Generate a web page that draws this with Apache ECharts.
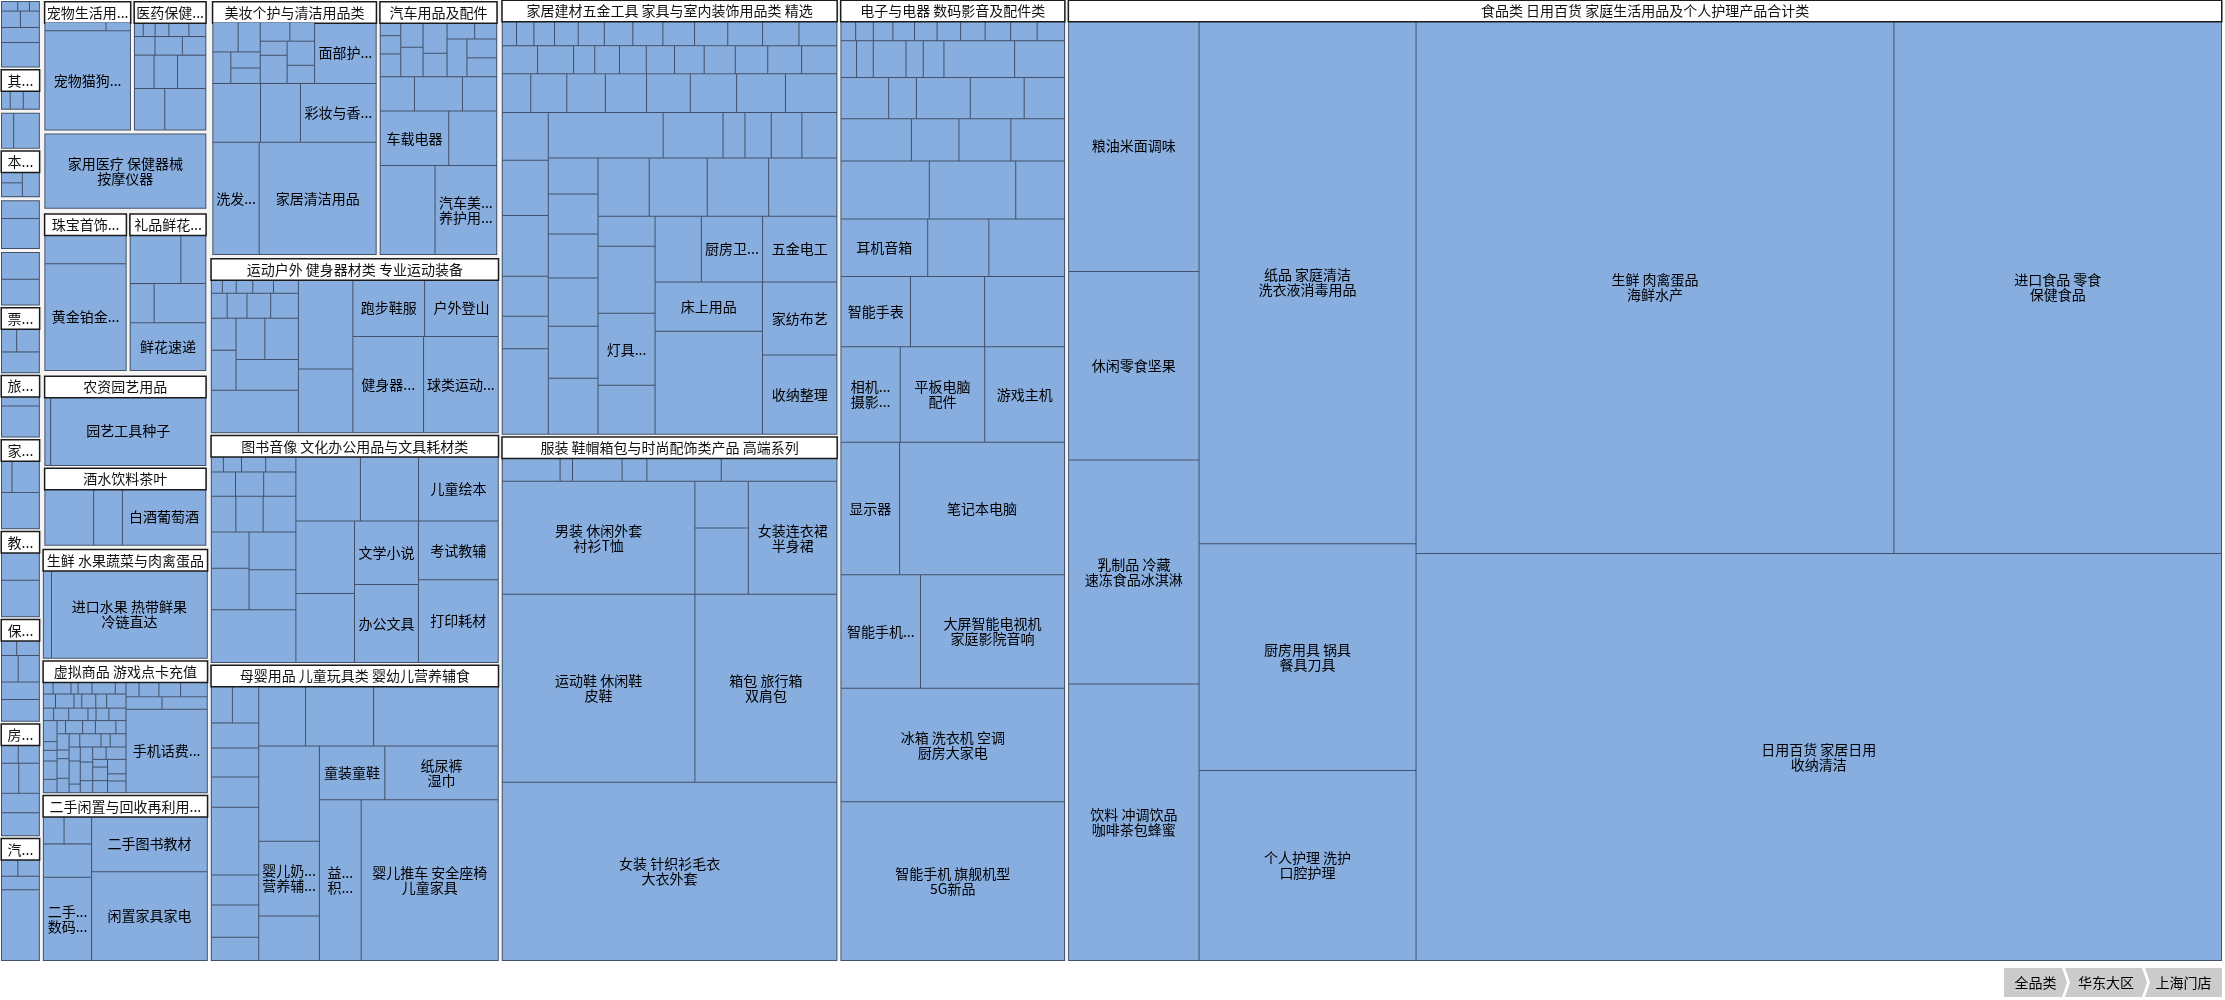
<!DOCTYPE html>
<html>
<head>
<meta charset="utf-8">
<script src="https://cdn.jsdelivr.net/npm/echarts@6/dist/echarts.min.js"></script>
<style>html,body{margin:0;padding:0;background:#fff}#chart{width:2225px;height:1000px}</style>
</head>
<body>
<div id="chart"></div>
<script>
// ---------------- DATA (relative area units) ----------------
const pathNames = ['全品类', '华东大区', '上海门店'];

// column 1 (small blocks, top to bottom)
const col1Names  = ['', '其他服务', '', '本地生活', '', '', '票务演出', '旅游出行', '家政维修', '教育培训', '保险理财', '房产租赁', '汽车服务'];
const col1Totals = [1440, 870, 810, 1000, 1070, 1170, 1400, 1330, 1900, 1820, 2160, 2370, 2580];
const col1HasBar = [false, true, false, true, false, false, true, true, true, true, true, true, true];
const col1Leaves = [
  [90, 65, 55, 180, 180, 330, 540], [200, 300, 370], [260, 550], [250, 300, 450], [400, 670],
  [600, 570], [300, 450, 650], [330, 1000], [250, 650, 1000], [800, 1020],
  [140, 210, 260, 330, 390, 480], [190, 240, 310, 370, 440, 520], [160, 210, 290, 1500]
];

// column 2
const petVals = [300, 120, 4700];
const petLabels = ['', '', '宠物猫狗主粮'];
const healthVals = [70, 95, 110, 160, 135, 210, 280, 240, 360, 430, 520, 690, 935];
const medDeviceName = '家用医疗 保健器械\n按摩仪器';
const medDeviceValue = 6600;
const jewelVals = [1320, 4800];
const jewelLabels = ['', '黄金铂金饰品'];
const giftVals = [1380, 680, 520, 1120, 2000];
const giftLabels = ['', '', '', '', '鲜花速递'];
const gardenVals = [250, 6700];
const gardenLabels = ['', '园艺工具种子'];
const drinkVals = [1830, 1080, 3130];
const drinkLabels = ['', '', '白酒葡萄酒'];
const freshVals = [380, 7300];
const freshLabels = ['', '进口水果 热带鲜果\n冷链直达'];
const virtualDenseVals = [64, 118, 47, 92, 153, 71, 88, 135, 56, 102, 79, 141, 66, 97, 124, 52, 83, 110, 148, 61,
  75, 129, 94, 58, 116, 87, 139, 69, 101, 54, 122, 90, 73, 145, 63, 108, 81, 133, 50, 96,
  119, 77, 86, 127, 59, 104, 93, 138, 68, 112];
const virtualVals = [105, 160, 175, 215, 230, 290, 3500];
const virtualLabels = ['', '', '', '', '', '', '手机话费充值'];
const usedSmallVals = [300, 400, 830];
const usedVals = [2070, 3340, 5300];
const usedLabels = ['二手手机\n数码产品', '二手图书教材', '闲置家具家电'];
const col2Names  = ['宠物生活用品类', '医药保健品类', '珠宝首饰钟表', '礼品鲜花绿植', '农资园艺用品', '酒水饮料茶叶',
  '生鲜 水果蔬菜与肉禽蛋品', '虚拟商品 游戏点卡充值', '二手闲置与回收再利用服务'];
const col2Totals = [5985, 5035, 6960, 6500, 7750, 6750, 9240, 11160, 13920];

// column 3
const beautySmallA = [400, 350, 300, 250, 240];
const beautySmallB = [300, 250, 200, 400, 350, 264];
const beautyVals = [2000, 1480, 1240, 2350, 2750, 6940];
const beautyLabels = ['面部护肤品', '', '', '彩妆与香水', '洗发护发素', '家居清洁用品'];
const autoSmall = [150, 200, 250, 300, 350, 400, 300, 250, 200, 400, 300, 300];
const autoVals = [625, 875, 625, 2000, 1400, 2600, 2925];
const autoLabels = ['', '', '', '车载电器', '', '', '汽车美容\n养护用品'];
const sportSmall = [80, 100, 120, 150, 180, 200, 250, 300, 350, 400, 500, 600, 700, 970];
const sportVals = [1880, 2480, 1760, 2090, 2145, 3445, 3640];
const sportLabels = ['', '', '', '跑步鞋服', '户外登山', '健身器材设备', '球类运动用品'];
const bookSmall = [100, 150, 200, 250, 300, 350, 400, 450, 500, 600, 700, 800, 900, 960];
const bookVals = [2280, 2150, 1935, 2655, 2180, 2065, 2080, 2550, 2400, 3380];
const bookLabels = ['', '', '', '儿童绘本', '', '', '文学小说', '办公文具', '考试教辅', '打印耗材'];
const babySmall = [400, 500, 600, 700, 725];
const babyVals = [1630, 720, 770, 560, 1440, 2090, 3830, 2920, 2294, 1370, 1776, 3080, 3400, 11160];
const babyLabels = ['', '', '', '', '', '', '', '', '婴儿奶粉\n营养辅食', '', '童装童鞋', '纸尿裤\n湿巾',
  '益智玩具\n积木拼图', '婴儿推车 安全座椅\n儿童家具'];
const col3Names  = ['美妆个护与清洁用品类', '汽车用品及配件', '运动户外 健身器材类 专业运动装备', '图书音像 文化办公用品与文具耗材类', '母婴用品 儿童玩具类 婴幼儿营养辅食'];
const col3Totals = [21594, 15555, 25420, 33005, 42845];

// column 4
const homeTopVals = [180, 220, 260, 300, 330, 360, 380, 400, 420, 440, 460, 480, 500, 510,
  300, 350, 380, 400, 420, 440, 460, 480, 500, 554,
  700, 750, 800, 850, 900, 950, 1000, 1100, 1280,
  1406, 924, 748, 1976, 2622, 1368];
const homeMidVals = [500, 600, 700, 800, 900, 1000, 1100, 1200, 1300, 1400, 1500, 1700, 1800, 2000];
const homeVals = [855, 1920, 2064, 1400, 1525, 2016, 2450, 2660, 5550, 2730, 2964];
const homeLabels = ['', '', '灯具照明', '', '', '厨房卫浴', '五金电工', '床上用品', '', '家纺布艺', '收纳整理'];
const apparelTopVals = [700, 150, 600, 300, 900, 1400];
const apparelPairVals = [1254, 1786];
const apparelVals = [10960, 5040, 18220, 13430, 29990];
const apparelLabels = ['男装 休闲外套\n衬衫T恤', '女装连衣裙\n半身裙', '运动鞋 休闲鞋\n皮鞋', '箱包 旅行箱\n双肩包', '女装 针织衫毛衣\n大衣外套'];
const col4Names  = ['家居建材五金工具 家具与室内装饰用品类 精选', '服装 鞋帽箱包与时尚配饰类产品 高端系列'];
const col4Totals = [73066, 88060];

// column 5
const digitalVals = [150, 180, 200, 220, 230, 240, 250, 260, 270, 280, 290, 310,
  608, 320, 384, 1312, 928, 992, 576,
  1120, 1120, 840, 1505, 1015, 1107, 1148, 2585, 2530, 1430,
  2520, 1775, 2200, 2464, 2625, 2835, 2860, 4070, 3850, 3920,
  11030, 4560, 8256, 12800, 17920];
const digitalLabels = ['', '', '', '', '', '', '', '', '', '', '', '',
  '', '', '', '', '', '', '',
  '', '', '', '', '', '', '', '', '', '',
  '耳机音箱', '', '', '智能手表', '', '', '相机镜头\n摄影器材', '平板电脑\n配件', '游戏主机', '显示器',
  '笔记本电脑', '智能手机配件', '大屏智能电视机\n家庭影院音响', '冰箱 洗衣机 空调\n厨房大家电', '智能手机 旗舰机型\n5G新品'];
const col5Name  = '电子与电器 数码影音及配件类';
const col5Total = 108320;

// column 6
const foodVals = [16284, 12236, 14536, 17940, 56457, 24480, 20502, 126712, 86856, 163016];
const foodLabels = ['粮油米面调味', '休闲零食坚果', '乳制品 冷藏\n速冻食品冰淇淋', '饮料 冲调饮品\n咖啡茶包蜂蜜',
  '纸品 家庭清洁\n洗衣液消毒用品', '厨房用具 锅具\n餐具刀具', '个人护理 洗护\n口腔护理',
  '生鲜 肉禽蛋品\n海鲜水产', '进口食品 零食\n保健食品', '日用百货 家居日用\n收纳清洁'];
const col6Name  = '食品类 日用百货 家庭生活用品及个人护理产品合计类';
const col6Total = 550401;

// ---------------- BUILD TREE ----------------
const BLUE = '#87aedf';
const LINE = '#43526a';
const GAP = '#f4f4f4';
const FONT = '"Noto Sans CJK SC", "Noto Sans", sans-serif';

function leaves(vals, labels) {
  return vals.map((v, i) => ({ name: (labels && labels[i]) || '', value: v, itemStyle: { color: BLUE } }));
}
function plainGroup(vals, labels, outline) {
  return { name: '', children: leaves(vals, labels),
    itemStyle: { color: BLUE, borderWidth: outline ? 1 : 0, gapWidth: 1, borderColor: LINE } };
}
function section(name, total, children) {
  return { name: name, value: total, children: children,
    itemStyle: { color: BLUE, borderWidth: 1, gapWidth: 1, borderColor: LINE },
    upperLabel: { show: true } };
}
function struct(children) {
  return { name: '', children: children,
    itemStyle: { color: BLUE, borderWidth: 1.5, gapWidth: 3, borderColor: GAP } };
}

const sections = [];
// column 1
col1Names.forEach((n, i) => {
  if (col1HasBar[i]) sections.push(section(n, col1Totals[i], leaves(col1Leaves[i])));
  else { const g = plainGroup(col1Leaves[i], null, true); g.value = col1Totals[i]; sections.push(g); }
});
// column 2
sections.push(struct([
  section(col2Names[0], col2Totals[0], leaves(petVals, petLabels)),
  section(col2Names[1], col2Totals[1], leaves(healthVals)),
  { name: medDeviceName, value: medDeviceValue, itemStyle: { color: BLUE, borderWidth: 1, borderColor: LINE } }
]));
sections.push(struct([
  section(col2Names[2], col2Totals[2], leaves(jewelVals, jewelLabels)),
  section(col2Names[3], col2Totals[3], leaves(giftVals, giftLabels))
]));
sections.push(struct([
  section(col2Names[4], col2Totals[4], leaves(gardenVals, gardenLabels)),
  section(col2Names[5], col2Totals[5], leaves(drinkVals, drinkLabels))
]));
sections.push(section(col2Names[6], col2Totals[6], leaves(freshVals, freshLabels)));
sections.push(section(col2Names[7], col2Totals[7],
  [plainGroup(virtualDenseVals)].concat(leaves(virtualVals, virtualLabels))));
sections.push(section(col2Names[8], col2Totals[8],
  [plainGroup(usedSmallVals)].concat(leaves(usedVals, usedLabels))));
// column 3
sections.push(struct([
  section(col3Names[0], col3Totals[0],
    [plainGroup(beautySmallA), plainGroup(beautySmallB)].concat(leaves(beautyVals, beautyLabels))),
  section(col3Names[1], col3Totals[1], [plainGroup(autoSmall)].concat(leaves(autoVals, autoLabels)))
]));
sections.push(section(col3Names[2], col3Totals[2], [plainGroup(sportSmall)].concat(leaves(sportVals, sportLabels))));
sections.push(section(col3Names[3], col3Totals[3], [plainGroup(bookSmall)].concat(leaves(bookVals, bookLabels))));
sections.push(section(col3Names[4], col3Totals[4], [plainGroup(babySmall)].concat(leaves(babyVals, babyLabels))));
// column 4
sections.push(section(col4Names[0], col4Totals[0],
  leaves(homeTopVals).concat(leaves(homeMidVals), leaves(homeVals, homeLabels))));
const apparelChildren = leaves(apparelTopVals);
apparelChildren.push({ name: apparelLabels[0], value: apparelVals[0], itemStyle: { color: BLUE } });
apparelChildren.push(plainGroup(apparelPairVals));
for (let i = 1; i < apparelVals.length; i++) apparelChildren.push({ name: apparelLabels[i], value: apparelVals[i], itemStyle: { color: BLUE } });
sections.push(section(col4Names[1], col4Totals[1], apparelChildren));
// column 5
sections.push(section(col5Name, col5Total, leaves(digitalVals, digitalLabels)));
// column 6
sections.push(section(col6Name, col6Total, leaves(foodVals, foodLabels)));

const treeData = [{
  id: 'lvl1', name: pathNames[1], itemStyle: { color: BLUE },
  children: [{
    id: 'lvl2', name: pathNames[2],
    itemStyle: { color: BLUE, borderWidth: 0, gapWidth: 3, borderColor: GAP },
    children: sections
  }]
}];

// ---------------- CHART ----------------
const chart = echarts.init(document.getElementById('chart'), null, { renderer: 'canvas' });
chart.setOption({
  animation: false,
  backgroundColor: '#ffffff',
  color: [BLUE],
  textStyle: { fontFamily: FONT },
  series: [{
    type: 'treemap',
    name: pathNames[0],
    left: 1, top: 1, right: 3, bottom: 39,
    sort: false,
    squareRatio: 1,
    roam: false,
    nodeClick: false,
    visibleMin: 0,
    color: [BLUE],
    itemStyle: { color: BLUE, borderWidth: 0, gapWidth: 1, borderColor: LINE },
    label: {
      show: true, position: 'inside', formatter: '{b}', fontSize: 14, lineHeight: 15,
      color: '#000', fontFamily: FONT, overflow: 'truncate', padding: 2
    },
    upperLabel: {
      show: false, height: 20, position: 'inside', align: 'center', verticalAlign: 'middle',
      fontSize: 14, lineHeight: 16, color: '#111', fontFamily: FONT,
      backgroundColor: '#ffffff', borderColor: '#1b1b1b', borderWidth: 1.5, padding: 0,
      overflow: 'truncate'
    },
    breadcrumb: {
      show: true, left: 'auto', top: 'auto', right: 3, bottom: 3, height: 29, emptyItemWidth: 25,
      itemStyle: {
        color: '#cbcbcb', borderColor: '#cbcbcb', borderWidth: 0, shadowBlur: 0,
        shadowColor: 'rgba(0,0,0,0)',
        textStyle: { color: '#000', fontSize: 14, fontFamily: FONT }
      }
    },
    data: treeData
  }]
});
chart.dispatchAction({ type: 'treemapRootToNode', seriesIndex: 0, targetNode: 'lvl2' });
</script>
</body>
</html>
